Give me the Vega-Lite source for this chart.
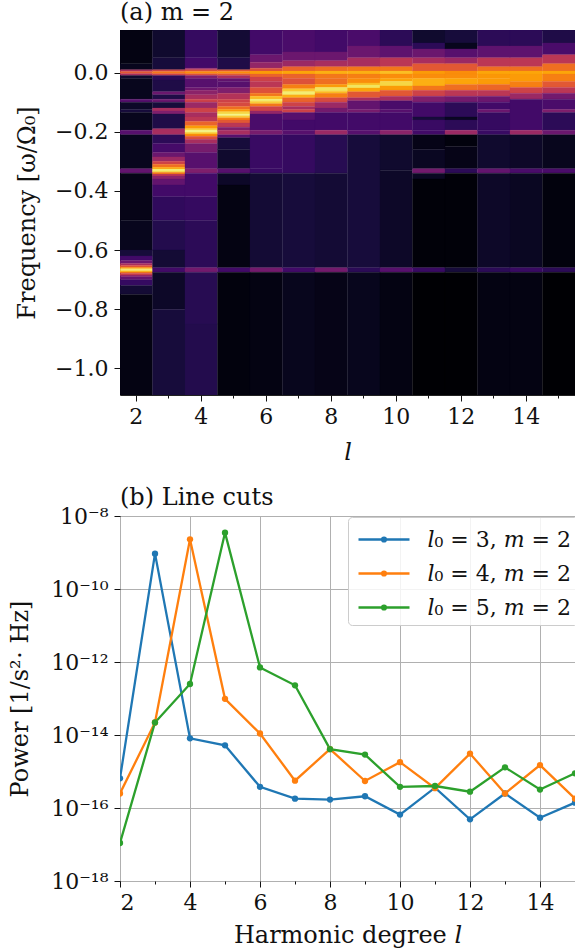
{"$schema":"https://vega.github.io/schema/vega-lite/v6.json","padding":{"left":8,"top":0,"right":0,"bottom":5},"background":"white","spacing":20,
"config":{"font":"DejaVu Serif","view":{"stroke":"#222","strokeWidth":1},"axis":{"labelFont":"DejaVu Serif","titleFont":"DejaVu Serif","labelFontSize":22,"titleFontSize":24,"labelColor":"#111","titleColor":"#111","tickColor":"#111","domainColor":"#111","titleFontWeight":"normal"},"title":{"font":"DejaVu Serif","fontSize":24,"fontWeight":"normal","anchor":"start","frame":"group","color":"#111"}},
"vconcat":[
{"width":455,"height":365,"title":{"text":"(a) m = 2","offset":5},
"data":{"values":[
{"l":2,"a":0.144,"b":0.03,"v":0.03},{"l":2,"a":0.03,"b":0.01,"v":0.05},{"l":2,"a":0.01,"b":0.004,"v":0.45},{"l":2,"a":0.004,"b":-0.004,"v":0.62},{"l":2,"a":-0.004,"b":-0.01,"v":0.45},{"l":2,"a":-0.01,"b":-0.02,"v":0.08},{"l":2,"a":-0.02,"b":-0.09,"v":0.05},{"l":2,"a":-0.09,"b":-0.1,"v":0.25},{"l":2,"a":-0.1,"b":-0.125,"v":0.07},{"l":2,"a":-0.125,"b":-0.135,"v":0.1},{"l":2,"a":-0.135,"b":-0.195,"v":0.05},{"l":2,"a":-0.195,"b":-0.21,"v":0.25},{"l":2,"a":-0.21,"b":-0.325,"v":0.05},{"l":2,"a":-0.325,"b":-0.34,"v":0.28},{"l":2,"a":-0.34,"b":-0.5,"v":0.04},{"l":2,"a":-0.5,"b":-0.6,"v":0.05},{"l":2,"a":-0.6,"b":-0.62,"v":0.1},{"l":2,"a":-0.62,"b":-0.635,"v":0.2},{"l":2,"a":-0.635,"b":-0.645,"v":0.3},{"l":2,"a":-0.645,"b":-0.652,"v":0.45},{"l":2,"a":-0.652,"b":-0.658,"v":0.6},{"l":2,"a":-0.658,"b":-0.662,"v":0.75},{"l":2,"a":-0.662,"b":-0.666,"v":0.88},{"l":2,"a":-0.666,"b":-0.67,"v":0.95},{"l":2,"a":-0.67,"b":-0.674,"v":0.85},{"l":2,"a":-0.674,"b":-0.678,"v":0.7},{"l":2,"a":-0.678,"b":-0.684,"v":0.55},{"l":2,"a":-0.684,"b":-0.69,"v":0.4},{"l":2,"a":-0.69,"b":-0.7,"v":0.28},{"l":2,"a":-0.7,"b":-0.72,"v":0.17},{"l":2,"a":-0.72,"b":-0.75,"v":0.09},{"l":2,"a":-0.75,"b":-1.09,"v":0.03},
{"l":3,"a":0.144,"b":0.05,"v":0.08},{"l":3,"a":0.05,"b":0.01,"v":0.1},{"l":3,"a":0.01,"b":0.004,"v":0.55},{"l":3,"a":0.004,"b":-0.004,"v":0.7},{"l":3,"a":-0.004,"b":-0.01,"v":0.55},{"l":3,"a":-0.01,"b":-0.025,"v":0.15},{"l":3,"a":-0.025,"b":-0.065,"v":0.12},{"l":3,"a":-0.065,"b":-0.075,"v":0.3},{"l":3,"a":-0.075,"b":-0.09,"v":0.12},{"l":3,"a":-0.09,"b":-0.1,"v":0.3},{"l":3,"a":-0.1,"b":-0.12,"v":0.1},{"l":3,"a":-0.12,"b":-0.13,"v":0.45},{"l":3,"a":-0.13,"b":-0.14,"v":0.35},{"l":3,"a":-0.14,"b":-0.19,"v":0.12},{"l":3,"a":-0.19,"b":-0.21,"v":0.45},{"l":3,"a":-0.21,"b":-0.24,"v":0.15},{"l":3,"a":-0.24,"b":-0.27,"v":0.21},{"l":3,"a":-0.27,"b":-0.285,"v":0.3},{"l":3,"a":-0.285,"b":-0.3,"v":0.42},{"l":3,"a":-0.3,"b":-0.31,"v":0.55},{"l":3,"a":-0.31,"b":-0.32,"v":0.68},{"l":3,"a":-0.32,"b":-0.326,"v":0.8},{"l":3,"a":-0.326,"b":-0.332,"v":0.95},{"l":3,"a":-0.332,"b":-0.337,"v":0.92},{"l":3,"a":-0.337,"b":-0.343,"v":0.72},{"l":3,"a":-0.343,"b":-0.35,"v":0.5},{"l":3,"a":-0.35,"b":-0.36,"v":0.38},{"l":3,"a":-0.36,"b":-0.38,"v":0.28},{"l":3,"a":-0.38,"b":-0.42,"v":0.2},{"l":3,"a":-0.42,"b":-0.5,"v":0.16},{"l":3,"a":-0.5,"b":-0.6,"v":0.13},{"l":3,"a":-0.6,"b":-0.66,"v":0.09},{"l":3,"a":-0.66,"b":-0.675,"v":0.2},{"l":3,"a":-0.675,"b":-0.8,"v":0.07},{"l":3,"a":-0.8,"b":-1.09,"v":0.1},
{"l":4,"a":0.144,"b":0.05,"v":0.17},{"l":4,"a":0.05,"b":0.015,"v":0.2},{"l":4,"a":0.015,"b":0.01,"v":0.4},{"l":4,"a":0.01,"b":0.004,"v":0.6},{"l":4,"a":0.004,"b":-0.004,"v":0.75},{"l":4,"a":-0.004,"b":-0.01,"v":0.6},{"l":4,"a":-0.01,"b":-0.02,"v":0.35},{"l":4,"a":-0.02,"b":-0.05,"v":0.25},{"l":4,"a":-0.05,"b":-0.06,"v":0.3},{"l":4,"a":-0.06,"b":-0.075,"v":0.38},{"l":4,"a":-0.075,"b":-0.09,"v":0.45},{"l":4,"a":-0.09,"b":-0.1,"v":0.55},{"l":4,"a":-0.1,"b":-0.12,"v":0.42},{"l":4,"a":-0.12,"b":-0.135,"v":0.55},{"l":4,"a":-0.135,"b":-0.15,"v":0.45},{"l":4,"a":-0.15,"b":-0.165,"v":0.5},{"l":4,"a":-0.165,"b":-0.18,"v":0.65},{"l":4,"a":-0.18,"b":-0.19,"v":0.78},{"l":4,"a":-0.19,"b":-0.196,"v":0.9},{"l":4,"a":-0.196,"b":-0.202,"v":0.97},{"l":4,"a":-0.202,"b":-0.208,"v":0.88},{"l":4,"a":-0.208,"b":-0.215,"v":0.75},{"l":4,"a":-0.215,"b":-0.225,"v":0.6},{"l":4,"a":-0.225,"b":-0.24,"v":0.45},{"l":4,"a":-0.24,"b":-0.27,"v":0.33},{"l":4,"a":-0.27,"b":-0.325,"v":0.25},{"l":4,"a":-0.325,"b":-0.34,"v":0.35},{"l":4,"a":-0.34,"b":-0.42,"v":0.2},{"l":4,"a":-0.42,"b":-0.5,"v":0.17},{"l":4,"a":-0.5,"b":-0.66,"v":0.15},{"l":4,"a":-0.66,"b":-0.675,"v":0.32},{"l":4,"a":-0.675,"b":-0.85,"v":0.14},{"l":4,"a":-0.85,"b":-1.09,"v":0.13},
{"l":5,"a":0.144,"b":0.05,"v":0.09},{"l":5,"a":0.05,"b":0.01,"v":0.12},{"l":5,"a":0.01,"b":0.004,"v":0.62},{"l":5,"a":0.004,"b":-0.004,"v":0.75},{"l":5,"a":-0.004,"b":-0.01,"v":0.62},{"l":5,"a":-0.01,"b":-0.02,"v":0.45},{"l":5,"a":-0.02,"b":-0.03,"v":0.28},{"l":5,"a":-0.03,"b":-0.05,"v":0.25},{"l":5,"a":-0.05,"b":-0.07,"v":0.35},{"l":5,"a":-0.07,"b":-0.09,"v":0.48},{"l":5,"a":-0.09,"b":-0.1,"v":0.55},{"l":5,"a":-0.1,"b":-0.115,"v":0.58},{"l":5,"a":-0.115,"b":-0.125,"v":0.68},{"l":5,"a":-0.125,"b":-0.132,"v":0.78},{"l":5,"a":-0.132,"b":-0.14,"v":0.9},{"l":5,"a":-0.14,"b":-0.146,"v":0.97},{"l":5,"a":-0.146,"b":-0.153,"v":0.88},{"l":5,"a":-0.153,"b":-0.16,"v":0.72},{"l":5,"a":-0.16,"b":-0.17,"v":0.62},{"l":5,"a":-0.17,"b":-0.185,"v":0.5},{"l":5,"a":-0.185,"b":-0.195,"v":0.35},{"l":5,"a":-0.195,"b":-0.21,"v":0.45},{"l":5,"a":-0.21,"b":-0.22,"v":0.25},{"l":5,"a":-0.22,"b":-0.26,"v":0.1},{"l":5,"a":-0.26,"b":-0.325,"v":0.08},{"l":5,"a":-0.325,"b":-0.34,"v":0.25},{"l":5,"a":-0.34,"b":-0.38,"v":0.07},{"l":5,"a":-0.38,"b":-0.66,"v":0.03},{"l":5,"a":-0.66,"b":-0.675,"v":0.2},{"l":5,"a":-0.675,"b":-1.09,"v":0.02},
{"l":6,"a":0.144,"b":0.06,"v":0.2},{"l":6,"a":0.06,"b":0.035,"v":0.3},{"l":6,"a":0.035,"b":0.015,"v":0.4},{"l":6,"a":0.015,"b":0.005,"v":0.6},{"l":6,"a":0.005,"b":-0.005,"v":0.78},{"l":6,"a":-0.005,"b":-0.015,"v":0.65},{"l":6,"a":-0.015,"b":-0.03,"v":0.55},{"l":6,"a":-0.03,"b":-0.05,"v":0.5},{"l":6,"a":-0.05,"b":-0.07,"v":0.6},{"l":6,"a":-0.07,"b":-0.08,"v":0.7},{"l":6,"a":-0.08,"b":-0.09,"v":0.85},{"l":6,"a":-0.09,"b":-0.097,"v":0.95},{"l":6,"a":-0.097,"b":-0.105,"v":0.88},{"l":6,"a":-0.105,"b":-0.115,"v":0.7},{"l":6,"a":-0.115,"b":-0.13,"v":0.55},{"l":6,"a":-0.13,"b":-0.14,"v":0.4},{"l":6,"a":-0.14,"b":-0.195,"v":0.22},{"l":6,"a":-0.195,"b":-0.21,"v":0.33},{"l":6,"a":-0.21,"b":-0.325,"v":0.18},{"l":6,"a":-0.325,"b":-0.34,"v":0.18},{"l":6,"a":-0.34,"b":-0.66,"v":0.09},{"l":6,"a":-0.66,"b":-0.675,"v":0.32},{"l":6,"a":-0.675,"b":-1.09,"v":0.03},
{"l":7,"a":0.144,"b":0.07,"v":0.22},{"l":7,"a":0.07,"b":0.04,"v":0.3},{"l":7,"a":0.04,"b":0.02,"v":0.42},{"l":7,"a":0.02,"b":0.005,"v":0.65},{"l":7,"a":0.005,"b":-0.005,"v":0.8},{"l":7,"a":-0.005,"b":-0.02,"v":0.65},{"l":7,"a":-0.02,"b":-0.04,"v":0.6},{"l":7,"a":-0.04,"b":-0.055,"v":0.72},{"l":7,"a":-0.055,"b":-0.065,"v":0.87},{"l":7,"a":-0.065,"b":-0.075,"v":0.95},{"l":7,"a":-0.075,"b":-0.085,"v":0.82},{"l":7,"a":-0.085,"b":-0.1,"v":0.65},{"l":7,"a":-0.1,"b":-0.115,"v":0.55},{"l":7,"a":-0.115,"b":-0.125,"v":0.45},{"l":7,"a":-0.125,"b":-0.135,"v":0.55},{"l":7,"a":-0.135,"b":-0.16,"v":0.25},{"l":7,"a":-0.16,"b":-0.195,"v":0.2},{"l":7,"a":-0.195,"b":-0.21,"v":0.25},{"l":7,"a":-0.21,"b":-0.34,"v":0.17},{"l":7,"a":-0.34,"b":-0.66,"v":0.1},{"l":7,"a":-0.66,"b":-0.675,"v":0.2},{"l":7,"a":-0.675,"b":-1.09,"v":0.05},
{"l":8,"a":0.144,"b":0.07,"v":0.2},{"l":8,"a":0.07,"b":0.04,"v":0.3},{"l":8,"a":0.04,"b":0.02,"v":0.45},{"l":8,"a":0.02,"b":0.005,"v":0.68},{"l":8,"a":0.005,"b":-0.005,"v":0.82},{"l":8,"a":-0.005,"b":-0.02,"v":0.7},{"l":8,"a":-0.02,"b":-0.04,"v":0.68},{"l":8,"a":-0.04,"b":-0.05,"v":0.78},{"l":8,"a":-0.05,"b":-0.063,"v":0.93},{"l":8,"a":-0.063,"b":-0.07,"v":0.85},{"l":8,"a":-0.07,"b":-0.085,"v":0.72},{"l":8,"a":-0.085,"b":-0.1,"v":0.58},{"l":8,"a":-0.1,"b":-0.12,"v":0.42},{"l":8,"a":-0.12,"b":-0.135,"v":0.32},{"l":8,"a":-0.135,"b":-0.195,"v":0.2},{"l":8,"a":-0.195,"b":-0.21,"v":0.42},{"l":8,"a":-0.21,"b":-0.34,"v":0.14},{"l":8,"a":-0.34,"b":-0.66,"v":0.09},{"l":8,"a":-0.66,"b":-0.675,"v":0.32},{"l":8,"a":-0.675,"b":-1.09,"v":0.04},
{"l":9,"a":0.144,"b":0.09,"v":0.22},{"l":9,"a":0.09,"b":0.05,"v":0.3},{"l":9,"a":0.05,"b":0.02,"v":0.45},{"l":9,"a":0.02,"b":0.005,"v":0.7},{"l":9,"a":0.005,"b":-0.005,"v":0.82},{"l":9,"a":-0.005,"b":-0.02,"v":0.72},{"l":9,"a":-0.02,"b":-0.035,"v":0.75},{"l":9,"a":-0.035,"b":-0.042,"v":0.85},{"l":9,"a":-0.042,"b":-0.052,"v":0.93},{"l":9,"a":-0.052,"b":-0.065,"v":0.8},{"l":9,"a":-0.065,"b":-0.085,"v":0.62},{"l":9,"a":-0.085,"b":-0.095,"v":0.45},{"l":9,"a":-0.095,"b":-0.125,"v":0.28},{"l":9,"a":-0.125,"b":-0.135,"v":0.33},{"l":9,"a":-0.135,"b":-0.195,"v":0.2},{"l":9,"a":-0.195,"b":-0.21,"v":0.25},{"l":9,"a":-0.21,"b":-0.66,"v":0.1},{"l":9,"a":-0.66,"b":-0.675,"v":0.15},{"l":9,"a":-0.675,"b":-1.09,"v":0.05},
{"l":10,"a":0.144,"b":0.09,"v":0.15},{"l":10,"a":0.09,"b":0.05,"v":0.27},{"l":10,"a":0.05,"b":0.02,"v":0.5},{"l":10,"a":0.02,"b":0.005,"v":0.7},{"l":10,"a":0.005,"b":-0.005,"v":0.85},{"l":10,"a":-0.005,"b":-0.02,"v":0.75},{"l":10,"a":-0.02,"b":-0.03,"v":0.8},{"l":10,"a":-0.03,"b":-0.045,"v":0.9},{"l":10,"a":-0.045,"b":-0.06,"v":0.78},{"l":10,"a":-0.06,"b":-0.08,"v":0.62},{"l":10,"a":-0.08,"b":-0.095,"v":0.45},{"l":10,"a":-0.095,"b":-0.125,"v":0.22},{"l":10,"a":-0.125,"b":-0.135,"v":0.25},{"l":10,"a":-0.135,"b":-0.195,"v":0.2},{"l":10,"a":-0.195,"b":-0.21,"v":0.38},{"l":10,"a":-0.21,"b":-0.33,"v":0.08},{"l":10,"a":-0.33,"b":-0.66,"v":0.07},{"l":10,"a":-0.66,"b":-0.675,"v":0.25},{"l":10,"a":-0.675,"b":-1.09,"v":0.03},
{"l":11,"a":0.144,"b":0.1,"v":0.08},{"l":11,"a":0.1,"b":0.08,"v":0.15},{"l":11,"a":0.08,"b":0.05,"v":0.3},{"l":11,"a":0.05,"b":0.03,"v":0.45},{"l":11,"a":0.03,"b":0.005,"v":0.62},{"l":11,"a":0.005,"b":-0.005,"v":0.78},{"l":11,"a":-0.005,"b":-0.02,"v":0.75},{"l":11,"a":-0.02,"b":-0.045,"v":0.82},{"l":11,"a":-0.045,"b":-0.06,"v":0.7},{"l":11,"a":-0.06,"b":-0.08,"v":0.55},{"l":11,"a":-0.08,"b":-0.1,"v":0.35},{"l":11,"a":-0.1,"b":-0.15,"v":0.2},{"l":11,"a":-0.15,"b":-0.16,"v":0.1},{"l":11,"a":-0.16,"b":-0.195,"v":0.18},{"l":11,"a":-0.195,"b":-0.21,"v":0.2},{"l":11,"a":-0.21,"b":-0.26,"v":0.04},{"l":11,"a":-0.26,"b":-0.325,"v":0.06},{"l":11,"a":-0.325,"b":-0.34,"v":0.32},{"l":11,"a":-0.34,"b":-0.36,"v":0.06},{"l":11,"a":-0.36,"b":-0.66,"v":0.01},{"l":11,"a":-0.66,"b":-0.675,"v":0.18},{"l":11,"a":-0.675,"b":-1.09,"v":0.0},
{"l":12,"a":0.144,"b":0.1,"v":0.1},{"l":12,"a":0.1,"b":0.08,"v":0.05},{"l":12,"a":0.08,"b":0.05,"v":0.25},{"l":12,"a":0.05,"b":0.03,"v":0.42},{"l":12,"a":0.03,"b":0.005,"v":0.62},{"l":12,"a":0.005,"b":-0.005,"v":0.75},{"l":12,"a":-0.005,"b":-0.02,"v":0.75},{"l":12,"a":-0.02,"b":-0.04,"v":0.8},{"l":12,"a":-0.04,"b":-0.06,"v":0.68},{"l":12,"a":-0.06,"b":-0.08,"v":0.5},{"l":12,"a":-0.08,"b":-0.1,"v":0.32},{"l":12,"a":-0.1,"b":-0.15,"v":0.15},{"l":12,"a":-0.15,"b":-0.16,"v":0.06},{"l":12,"a":-0.16,"b":-0.195,"v":0.15},{"l":12,"a":-0.195,"b":-0.21,"v":0.42},{"l":12,"a":-0.21,"b":-0.25,"v":0.02},{"l":12,"a":-0.25,"b":-0.325,"v":0.04},{"l":12,"a":-0.325,"b":-0.34,"v":0.15},{"l":12,"a":-0.34,"b":-0.66,"v":0.01},{"l":12,"a":-0.66,"b":-0.675,"v":0.1},{"l":12,"a":-0.675,"b":-1.09,"v":0.0},
{"l":13,"a":0.144,"b":0.09,"v":0.15},{"l":13,"a":0.09,"b":0.05,"v":0.27},{"l":13,"a":0.05,"b":0.02,"v":0.5},{"l":13,"a":0.02,"b":0.005,"v":0.68},{"l":13,"a":0.005,"b":-0.005,"v":0.8},{"l":13,"a":-0.005,"b":-0.02,"v":0.77},{"l":13,"a":-0.02,"b":-0.04,"v":0.78},{"l":13,"a":-0.04,"b":-0.06,"v":0.66},{"l":13,"a":-0.06,"b":-0.08,"v":0.5},{"l":13,"a":-0.08,"b":-0.1,"v":0.3},{"l":13,"a":-0.1,"b":-0.125,"v":0.2},{"l":13,"a":-0.125,"b":-0.135,"v":0.3},{"l":13,"a":-0.135,"b":-0.195,"v":0.17},{"l":13,"a":-0.195,"b":-0.21,"v":0.18},{"l":13,"a":-0.21,"b":-0.325,"v":0.08},{"l":13,"a":-0.325,"b":-0.34,"v":0.28},{"l":13,"a":-0.34,"b":-0.66,"v":0.07},{"l":13,"a":-0.66,"b":-0.675,"v":0.15},{"l":13,"a":-0.675,"b":-1.09,"v":0.03},
{"l":14,"a":0.144,"b":0.09,"v":0.15},{"l":14,"a":0.09,"b":0.05,"v":0.27},{"l":14,"a":0.05,"b":0.02,"v":0.5},{"l":14,"a":0.02,"b":0.005,"v":0.68},{"l":14,"a":0.005,"b":-0.005,"v":0.8},{"l":14,"a":-0.005,"b":-0.03,"v":0.78},{"l":14,"a":-0.03,"b":-0.05,"v":0.72},{"l":14,"a":-0.05,"b":-0.07,"v":0.55},{"l":14,"a":-0.07,"b":-0.09,"v":0.42},{"l":14,"a":-0.09,"b":-0.195,"v":0.2},{"l":14,"a":-0.195,"b":-0.21,"v":0.42},{"l":14,"a":-0.21,"b":-0.325,"v":0.07},{"l":14,"a":-0.325,"b":-0.34,"v":0.22},{"l":14,"a":-0.34,"b":-0.66,"v":0.06},{"l":14,"a":-0.66,"b":-0.675,"v":0.18},{"l":14,"a":-0.675,"b":-1.09,"v":0.03},
{"l":15,"a":0.144,"b":0.1,"v":0.12},{"l":15,"a":0.1,"b":0.06,"v":0.22},{"l":15,"a":0.06,"b":0.03,"v":0.5},{"l":15,"a":0.03,"b":0.005,"v":0.68},{"l":15,"a":0.005,"b":-0.005,"v":0.8},{"l":15,"a":-0.005,"b":-0.03,"v":0.72},{"l":15,"a":-0.03,"b":-0.05,"v":0.62},{"l":15,"a":-0.05,"b":-0.07,"v":0.5},{"l":15,"a":-0.07,"b":-0.09,"v":0.32},{"l":15,"a":-0.09,"b":-0.125,"v":0.22},{"l":15,"a":-0.125,"b":-0.135,"v":0.35},{"l":15,"a":-0.135,"b":-0.195,"v":0.15},{"l":15,"a":-0.195,"b":-0.21,"v":0.3},{"l":15,"a":-0.21,"b":-0.325,"v":0.05},{"l":15,"a":-0.325,"b":-0.34,"v":0.22},{"l":15,"a":-0.34,"b":-0.66,"v":0.02},{"l":15,"a":-0.66,"b":-0.675,"v":0.15},{"l":15,"a":-0.675,"b":-1.09,"v":0.0}
]},
"mark":{"type":"rect","strokeWidth":0.3,"clip":true},
"encoding":{
"x":{"field":"l","type":"ordinal","scale":{"domain":[2,3,4,5,6,7,8,9,10,11,12,13,14,15],"paddingInner":0,"paddingOuter":0},"axis":{"title":"𝑙","labelAngle":0,"grid":false,"labelExpr":"datum.value%2==0?datum.label:''","tickSize":{"condition":{"test":"datum.value%2==0","value":6},"value":3},"domain":false,"labelPadding":5,"titlePadding":13}},
"y":{"field":"a","type":"quantitative","scale":{"domain":[-1.09,0.144],"nice":false,"zero":false},"axis":{"title":"Frequency [ω/Ω₀]","values":[-1,-0.8,-0.6,-0.4,-0.2,0],"format":".1f","labelExpr":"replace(datum.label,'-','−')","grid":false,"domain":false,"tickSize":6,"titlePadding":15,"labelPadding":6}},
"y2":{"field":"b"},
"color":{"field":"v","type":"quantitative","scale":{"scheme":"inferno","domain":[0,1]},"legend":null},
"stroke":{"field":"v","type":"quantitative","scale":{"scheme":"inferno","domain":[0,1]},"legend":null}}},
{"width":455,"height":365,"title":{"text":"(b) Line cuts","offset":-5},
"data":{"values":[
{"l":2,"s":"𝑙₀ = 3, 𝑚 = 2","p":6.5e-16},{"l":3,"s":"𝑙₀ = 3, 𝑚 = 2","p":9.3e-10},{"l":4,"s":"𝑙₀ = 3, 𝑚 = 2","p":8.1e-15},{"l":5,"s":"𝑙₀ = 3, 𝑚 = 2","p":5.2e-15},{"l":6,"s":"𝑙₀ = 3, 𝑚 = 2","p":3.8e-16},{"l":7,"s":"𝑙₀ = 3, 𝑚 = 2","p":1.8e-16},{"l":8,"s":"𝑙₀ = 3, 𝑚 = 2","p":1.7e-16},{"l":9,"s":"𝑙₀ = 3, 𝑚 = 2","p":2.1e-16},{"l":10,"s":"𝑙₀ = 3, 𝑚 = 2","p":6.6e-17},{"l":11,"s":"𝑙₀ = 3, 𝑚 = 2","p":3.6e-16},{"l":12,"s":"𝑙₀ = 3, 𝑚 = 2","p":4.9e-17},{"l":13,"s":"𝑙₀ = 3, 𝑚 = 2","p":2.5e-16},{"l":14,"s":"𝑙₀ = 3, 𝑚 = 2","p":5.4e-17},{"l":15,"s":"𝑙₀ = 3, 𝑚 = 2","p":1.4e-16},
{"l":2,"s":"𝑙₀ = 4, 𝑚 = 2","p":2.5e-16},{"l":3,"s":"𝑙₀ = 4, 𝑚 = 2","p":2.2e-14},{"l":4,"s":"𝑙₀ = 4, 𝑚 = 2","p":2.3e-9},{"l":5,"s":"𝑙₀ = 4, 𝑚 = 2","p":9.8e-14},{"l":6,"s":"𝑙₀ = 4, 𝑚 = 2","p":1.1e-14},{"l":7,"s":"𝑙₀ = 4, 𝑚 = 2","p":5.6e-16},{"l":8,"s":"𝑙₀ = 4, 𝑚 = 2","p":4.1e-15},{"l":9,"s":"𝑙₀ = 4, 𝑚 = 2","p":5.5e-16},{"l":10,"s":"𝑙₀ = 4, 𝑚 = 2","p":1.8e-15},{"l":11,"s":"𝑙₀ = 4, 𝑚 = 2","p":3.5e-16},{"l":12,"s":"𝑙₀ = 4, 𝑚 = 2","p":3.1e-15},{"l":13,"s":"𝑙₀ = 4, 𝑚 = 2","p":2.5e-16},{"l":14,"s":"𝑙₀ = 4, 𝑚 = 2","p":1.5e-15},{"l":15,"s":"𝑙₀ = 4, 𝑚 = 2","p":1.8e-16},
{"l":2,"s":"𝑙₀ = 5, 𝑚 = 2","p":1.1e-17},{"l":3,"s":"𝑙₀ = 5, 𝑚 = 2","p":2.2e-14},{"l":4,"s":"𝑙₀ = 5, 𝑚 = 2","p":2.5e-13},{"l":5,"s":"𝑙₀ = 5, 𝑚 = 2","p":3.5e-9},{"l":6,"s":"𝑙₀ = 5, 𝑚 = 2","p":7.1e-13},{"l":7,"s":"𝑙₀ = 5, 𝑚 = 2","p":2.3e-13},{"l":8,"s":"𝑙₀ = 5, 𝑚 = 2","p":4.1e-15},{"l":9,"s":"𝑙₀ = 5, 𝑚 = 2","p":2.9e-15},{"l":10,"s":"𝑙₀ = 5, 𝑚 = 2","p":3.8e-16},{"l":11,"s":"𝑙₀ = 5, 𝑚 = 2","p":4e-16},{"l":12,"s":"𝑙₀ = 5, 𝑚 = 2","p":2.8e-16},{"l":13,"s":"𝑙₀ = 5, 𝑚 = 2","p":1.3e-15},{"l":14,"s":"𝑙₀ = 5, 𝑚 = 2","p":3.2e-16},{"l":15,"s":"𝑙₀ = 5, 𝑚 = 2","p":8.9e-16}
]},
"encoding":{
"x":{"field":"l","type":"quantitative","scale":{"domain":[2,15],"nice":false,"zero":false},"axis":{"title":"Harmonic degree 𝑙","values":[2,3,4,5,6,7,8,9,10,11,12,13,14,15],"labelExpr":"datum.value%2==0?datum.label:''","grid":true,"gridColor":"#b0b0b0","gridOpacity":{"condition":{"test":"datum.value%2==0","value":1},"value":0},"tickSize":{"condition":{"test":"datum.value%2==0","value":6},"value":3},"domain":false,"labelPadding":5,"titlePadding":10}},
"y":{"field":"p","type":"quantitative","scale":{"type":"log","domain":[1e-18,1e-8],"nice":false},"axis":{"title":"Power [1/s²⋅ Hz]","values":[1e-18,1e-16,1e-14,1e-12,1e-10,1e-8],"labelExpr":"'10'+replace(replace(replace(replace(replace(replace(replace('-'+format(round(-log(datum.value)/LN10),'d'),'-','⁻'),'18','¹⁸'),'16','¹⁶'),'14','¹⁴'),'12','¹²'),'10','¹⁰'),'8','⁸')","grid":true,"gridColor":"#b0b0b0","domain":false,"tickSize":6,"titlePadding":18,"labelPadding":6}}},
"layer":[
{"mark":{"type":"line","strokeWidth":2.3,"clip":true},"encoding":{"stroke":{"field":"s","type":"nominal","scale":{"range":["#1f77b4","#ff7f0e","#2ca02c"]},"legend":{"title":null,"orient":"none","legendX":228,"legendY":1,"fillColor":"rgba(255,255,255,0.85)","strokeColor":"#ccc","cornerRadius":4,"padding":6,"labelFont":"DejaVu Serif","labelFontSize":22,"labelColor":"#111","rowPadding":6,"symbolOffset":13.5,"symbolType":"M -1.7 0 L 1.7 0 M -0.13 0 A 0.13 0.13 0 1 0 0.13 0 A 0.13 0.13 0 1 0 -0.13 0 M -0.06 0 A 0.06 0.06 0 1 0 0.06 0 A 0.06 0.06 0 1 0 -0.06 0","symbolSize":900,"symbolStrokeWidth":2.3,"labelOffset":27}}}},
{"mark":{"type":"point","filled":true,"size":40,"opacity":1,"clip":true},"encoding":{"fill":{"field":"s","type":"nominal","scale":{"range":["#1f77b4","#ff7f0e","#2ca02c"]},"legend":null}}}
]}
]}
